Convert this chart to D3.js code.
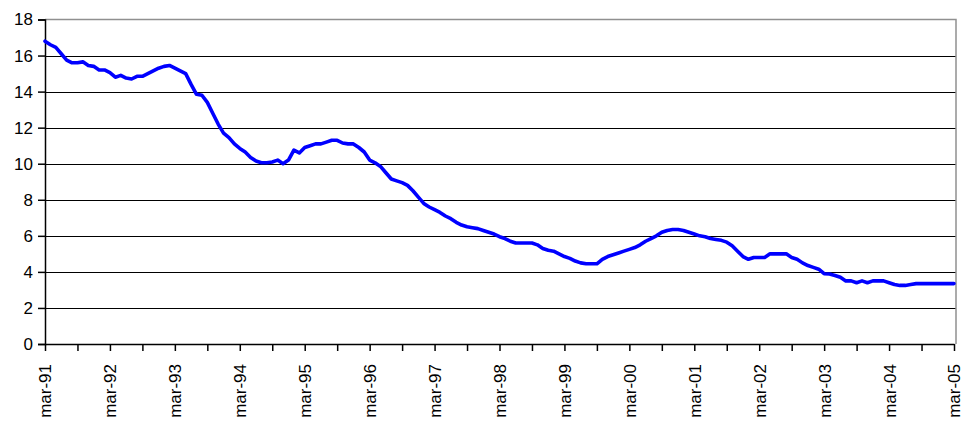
<!DOCTYPE html>
<html>
<head>
<meta charset="utf-8">
<script src="https://cdn.jsdelivr.net/npm/d3@7"></script>
<style>
  body { margin: 0; background: #fff; }
  svg { display: block; font-family: "Liberation Sans", Arial, sans-serif; }
</style>
</head>
<body>
<svg id="chart"></svg>
<script>
// monthly values, mar-91 .. mar-05
const values = [
  16.8, 16.6, 16.45, 16.1, 15.75, 15.6, 15.6, 15.65, 15.45, 15.4, 15.2, 15.2,
  15.05, 14.8, 14.9, 14.75, 14.7, 14.85, 14.85, 15.0, 15.15, 15.3, 15.4, 15.45,
  15.3, 15.15, 15.0, 14.4, 13.85, 13.8, 13.4, 12.8, 12.2, 11.7, 11.45, 11.1,
  10.85, 10.65, 10.35, 10.15, 10.05, 10.05, 10.1, 10.2, 10.0, 10.2, 10.75, 10.6,
  10.9, 11.0, 11.1, 11.1, 11.2, 11.3, 11.3, 11.15, 11.1, 11.1, 10.9, 10.65,
  10.2, 10.05, 9.85, 9.5, 9.15, 9.05, 8.95, 8.8, 8.5, 8.15, 7.8, 7.6,
  7.45, 7.3, 7.1, 6.95, 6.75, 6.6, 6.5, 6.45, 6.4, 6.3, 6.2, 6.1,
  5.95, 5.85, 5.7, 5.6, 5.6, 5.6, 5.6, 5.5, 5.3, 5.2, 5.15, 5.0,
  4.85, 4.75, 4.6, 4.5, 4.45, 4.45, 4.45, 4.7, 4.85, 4.95, 5.05, 5.15,
  5.25, 5.35, 5.5, 5.7, 5.85, 6.0, 6.2, 6.3, 6.35, 6.35, 6.3, 6.2,
  6.1, 6.0, 5.95, 5.85, 5.8, 5.75, 5.65, 5.45, 5.15, 4.85, 4.7, 4.8,
  4.8, 4.8, 5.0, 5.0, 5.0, 5.0, 4.8, 4.7, 4.5, 4.35, 4.25, 4.15,
  3.9, 3.88, 3.8, 3.7, 3.5, 3.5, 3.4, 3.5, 3.4, 3.5, 3.5, 3.5,
  3.4, 3.3, 3.25, 3.25, 3.3, 3.35, 3.35, 3.35, 3.35, 3.35, 3.35, 3.35,
  3.35
]
const yearLabels = ["mar-91","mar-92","mar-93","mar-94","mar-95","mar-96","mar-97",
  "mar-98","mar-99","mar-00","mar-01","mar-02","mar-03","mar-04","mar-05"]
const yTicks = [0, 2, 4, 6, 8, 10, 12, 14, 16, 18]

const width = 962, height = 424
const margin = {top: 19.5, right: 8, bottom: 80, left: 45}
const plotRight = 956

const svg = d3.select("#chart").attr("width", width).attr("height", height)

const x = d3.scaleLinear()
  .domain([0, values.length - 1])
  .range([margin.left, 954])

const y = d3.scaleLinear()
  .domain([0, 18])
  .range([height - margin.bottom, margin.top])

// gridlines
svg.append("g")
  .selectAll("line")
  .data(yTicks.filter(d => d > 0 && d < 18))
  .join("line")
    .attr("x1", margin.left).attr("x2", plotRight)
    .attr("y1", d => Math.round(y(d)) + 0.5).attr("y2", d => Math.round(y(d)) + 0.5)
    .attr("stroke", "#000").attr("stroke-width", 1.2)

// plot frame top and right (gray)
svg.append("path")
  .attr("d", `M${margin.left},${y(18)}H${plotRight}V${y(0)}`)
  .attr("fill", "none").attr("stroke", "#909090").attr("stroke-width", 1.5)

// y axis
const yAxis = svg.append("g")
  .attr("transform", `translate(${margin.left},0)`)
  .call(d3.axisLeft(y).tickValues(yTicks).tickSize(7).tickPadding(5))
yAxis.select(".domain").attr("stroke-width", 1.5)
yAxis.selectAll(".tick line").attr("stroke-width", 1.5)
yAxis.selectAll("text").attr("font-size", 17).attr("fill", "#000")
  .attr("font-family", "Liberation Sans, Arial, sans-serif")

// x axis, ticks every 6 months, labels every 12
const xAxis = svg.append("g")
  .attr("transform", `translate(0,${y(0)})`)
  .call(d3.axisBottom(x)
    .tickValues(d3.range(0, values.length, 6))
    .tickSize(7)
    .tickSizeOuter(0)
    .tickFormat(d => d % 12 === 0 ? yearLabels[d / 12] : ""))
xAxis.select(".domain").attr("stroke-width", 1.5)
xAxis.selectAll(".tick line").attr("stroke-width", 1.5)
xAxis.selectAll("text")
  .attr("font-size", 17).attr("fill", "#000")
  .attr("font-family", "Liberation Sans, Arial, sans-serif")
  .attr("text-anchor", "end")
  .attr("transform", "rotate(-90)")
  .attr("x", -20).attr("y", 0).attr("dy", "0.35em")

// line
const line = d3.line()
  .x((d, i) => x(i))
  .y(d => y(d))

svg.append("path")
  .datum(values)
  .attr("fill", "none")
  .attr("stroke", "#0000ff")
  .attr("stroke-width", 3.6)
  .attr("stroke-linejoin", "round")
  .attr("stroke-linecap", "round")
  .attr("d", line)
</script>
</body>
</html>
